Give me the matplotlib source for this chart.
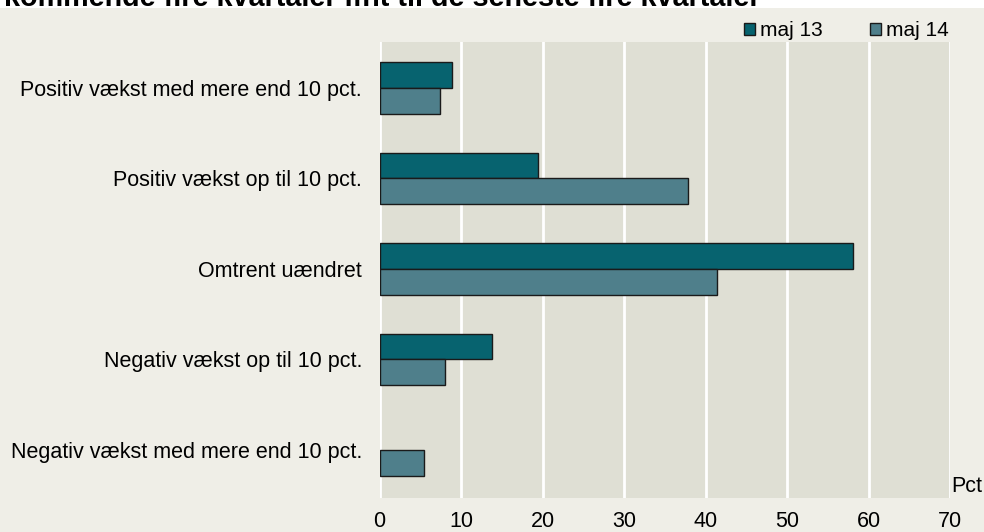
import matplotlib
matplotlib.use("Agg")
import matplotlib.pyplot as plt
import numpy as np
from matplotlib.patches import Rectangle, Patch

plt.rcParams['font.family'] = ['Liberation Sans', 'DejaVu Sans']

categories = [
    "Positiv vækst med mere end 10 pct.",
    "Positiv vækst op til 10 pct.",
    "Omtrent uændret",
    "Negativ vækst op til 10 pct.",
    "Negativ vækst med mere end 10 pct.",
]
series_names = ["maj 13", "maj 14"]
maj13 = [8.9, 19.4, 58.1, 13.8, 0.0]
maj14 = [7.4, 37.9, 41.4, 8.0, 5.4]
xticks = [0, 10, 20, 30, 40, 50, 60, 70]
title = "kommende fire kvartaler ifht til de seneste fire kvartaler"

c13 = "#07636f"
c14 = "#4f7f8b"
fig_bg = "#efeee7"
ax_bg = "#dfdfd4"
fs = 15.5

W, H = 984, 532
fig = plt.figure(figsize=(W / 100, H / 100), dpi=100)
fig.patch.set_facecolor(fig_bg)

# white strip on top
fig.patches.append(Rectangle((0, 1 - 8 / H), 1, 8 / H, transform=fig.transFigure,
                             facecolor="white", edgecolor="none", zorder=0))
fig.text(4 / W, 1 - 6.5 / H, title, fontsize=20.7, fontweight="bold",
         va="baseline", ha="left", color="black")

ax = fig.add_axes([379.5 / W, 1 - 497.5 / H, (950 - 379.5) / W, (497.5 - 42) / H])
ax.set_facecolor(ax_bg)

y = np.arange(len(categories))
h = 0.287
lw13 = [1.0 if v > 0 else 0.0 for v in maj13]
lw14 = [1.0 if v > 0 else 0.0 for v in maj14]
ax.barh(y - h / 2, maj13, height=h, color=c13, edgecolor="#1a1a1a", linewidth=lw13,
        label=series_names[0], zorder=3)
ax.barh(y + h / 2, maj14, height=h, color=c14, edgecolor="#1a1a1a", linewidth=lw14,
        label=series_names[1], zorder=3)

ax.set_xlim(0, 70)
ax.set_ylim(4.525, -0.508)
ax.set_xticks(xticks)
ax.set_xticklabels([str(t) for t in xticks], fontsize=fs)
ax.set_yticks(y)
ax.set_yticklabels(categories, fontsize=fs)
ax.tick_params(axis="both", length=0)
ax.tick_params(axis="x", pad=10)
ax.tick_params(axis="y", pad=12.5)
for s in ax.spines.values():
    s.set_visible(False)
ax.grid(axis="x", color="white", linewidth=2, zorder=1)
ax.set_axisbelow(True)

ax.text(1.003, 0.0, "Pct", transform=ax.transAxes, fontsize=fs,
        ha="left", va="bottom")

handles = [Patch(facecolor=c13, edgecolor="#1a1a1a", linewidth=1.0),
           Patch(facecolor=c14, edgecolor="#1a1a1a", linewidth=1.0)]
fig.legend(handles, series_names, loc="center left",
           bbox_to_anchor=(744 / W, 1 - 31 / H), ncol=2, frameon=False,
           fontsize=15, handlelength=0.53, handleheight=0.53, handletextpad=0.24,
           columnspacing=2.26, borderpad=0, borderaxespad=0)

fig.savefig("out.png", dpi=100, facecolor=fig.get_facecolor())
